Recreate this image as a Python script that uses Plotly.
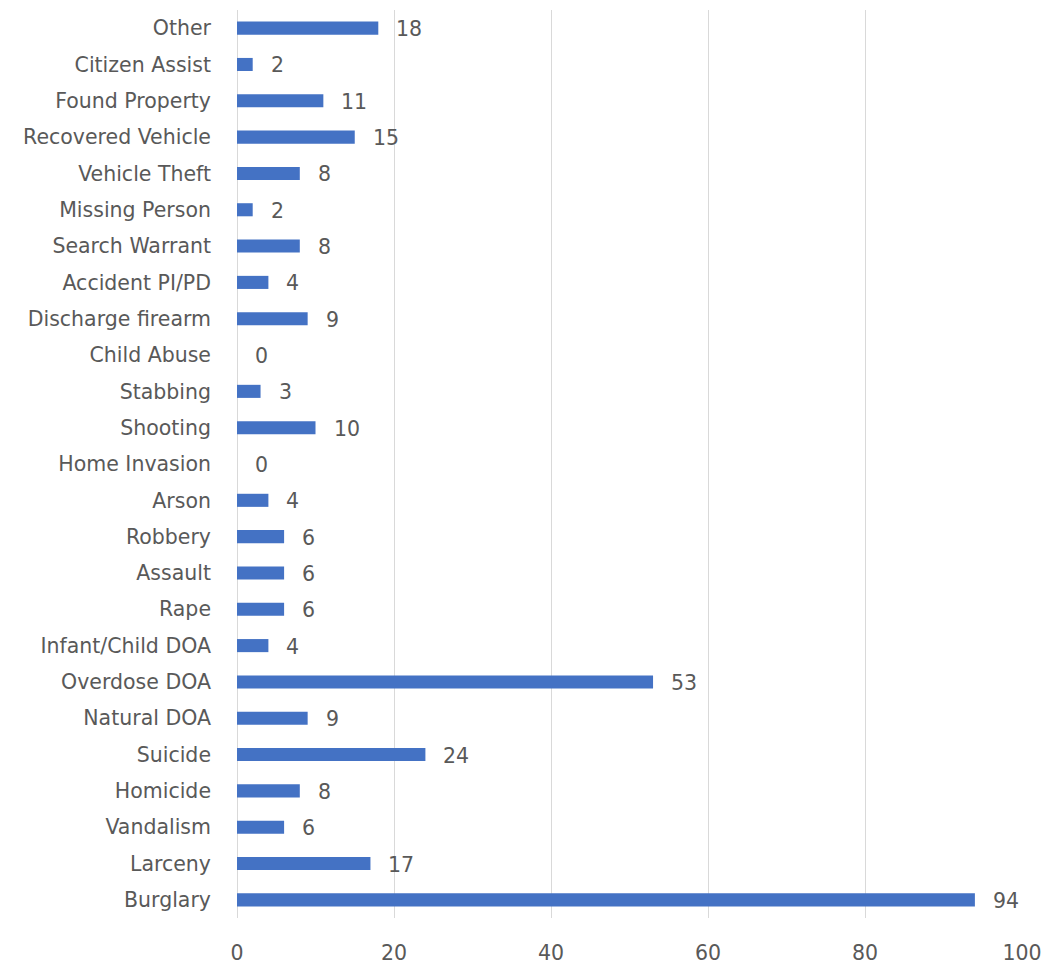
import plotly.graph_objects as go

categories = ["Burglary", "Larceny", "Vandalism", "Homicide", "Suicide", "Natural DOA",
              "Overdose DOA", "Infant/Child DOA", "Rape", "Assault", "Robbery", "Arson",
              "Home Invasion", "Shooting", "Stabbing", "Child Abuse", "Discharge firearm",
              "Accident PI/PD", "Search Warrant", "Missing Person", "Vehicle Theft",
              "Recovered Vehicle", "Found Property", "Citizen Assist", "Other"]
values = [94, 17, 6, 8, 24, 9, 53, 4, 6, 6, 6, 4, 0, 10, 3, 0, 9, 4, 8, 2, 8, 15, 11, 2, 18]
x_ticks = [0, 20, 40, 60, 80, 100]

FONT = "DejaVu Sans"
GRAY = "#595959"
FS = 20.5

fig = go.Figure()
fig.add_trace(go.Bar(
    y=categories, x=values, orientation="h",
    marker=dict(color="#4472C4", line=dict(width=0)),
    width=0.36,
    hoverinfo="x+y",
))

for c, v in zip(categories, values):
    fig.add_annotation(x=v, y=c, text=str(v), showarrow=False,
                       xanchor="left", yanchor="middle", xshift=16, yshift=-1,
                       font=dict(family=FONT, size=FS, color=GRAY))

fig.update_layout(
    width=1045, height=965,
    margin=dict(l=237, r=23, t=10, b=47, autoexpand=False),
    paper_bgcolor="white", plot_bgcolor="white",
    showlegend=False,
    font=dict(family=FONT, size=FS, color=GRAY),
)
fig.update_xaxes(range=[0, 100], tickvals=x_ticks, showgrid=True,
                 gridcolor="#d9d9d9", gridwidth=1, zeroline=True,
                 zerolinecolor="#d9d9d9", zerolinewidth=1, showline=False,
                 ticks="", automargin=False, ticklabelstandoff=20,
                 tickfont=dict(family=FONT, size=FS, color=GRAY),
                 fixedrange=True)
fig.update_yaxes(categoryorder="array", categoryarray=categories, showgrid=False,
                 showline=False, ticks="", automargin=False, ticklabelstandoff=25,
                 tickfont=dict(family=FONT, size=FS, color=GRAY),
                 range=[-0.5, len(categories) - 0.5], fixedrange=True)

fig.write_html("out.html",
               config={"displayModeBar": False},
               post_script="document.body.style.margin='0';document.body.style.overflow='hidden';")
